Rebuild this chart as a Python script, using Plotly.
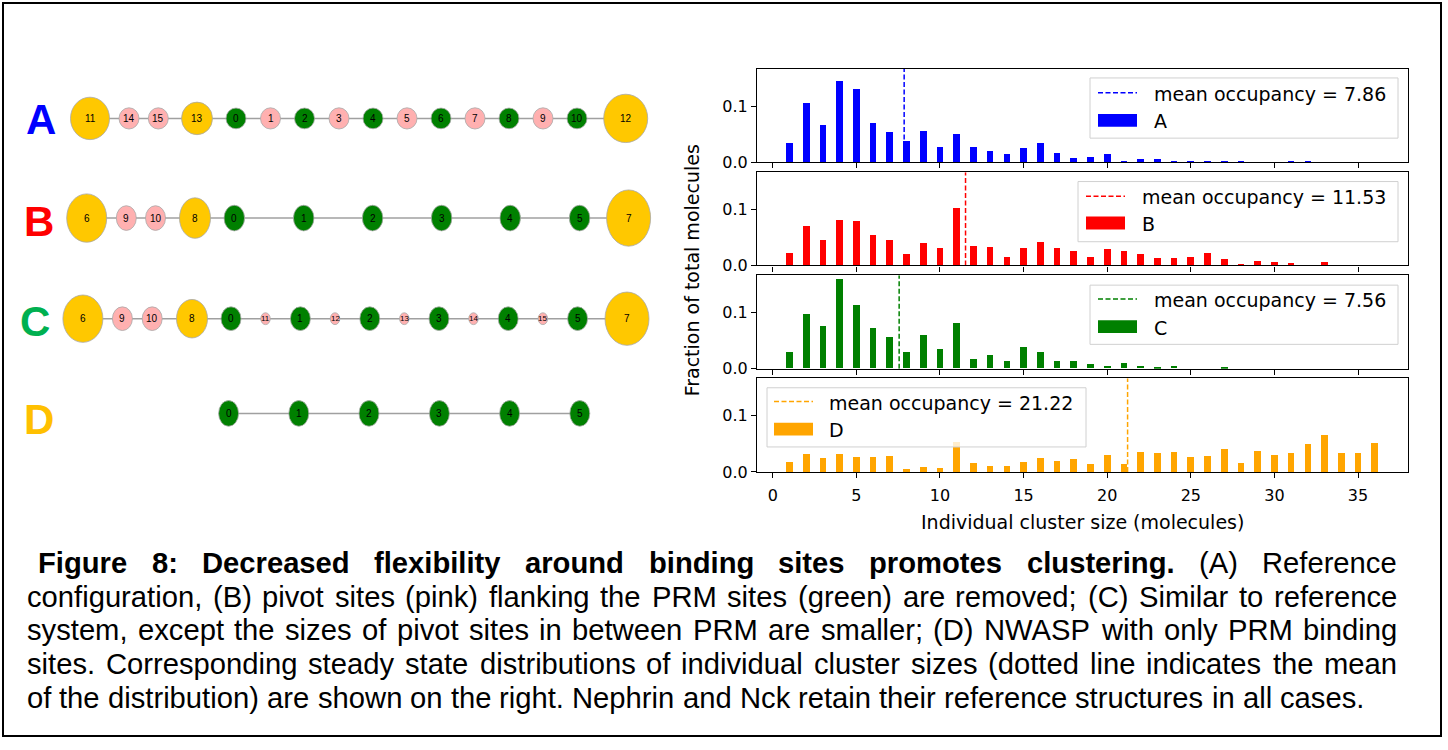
import plotly.graph_objects as go

# ---------------- data ----------------
cluster_sizes = list(range(1, 37))
frac_A = [0.035, 0.106, 0.066, 0.146, 0.131, 0.070, 0.054, 0.038, 0.056, 0.028,
          0.050, 0.028, 0.021, 0.015, 0.026, 0.035, 0.017, 0.008, 0.010, 0.015,
          0.002, 0.006, 0.006, 0.002, 0.002, 0.002, 0.002, 0.002, 0.0, 0.0,
          0.002, 0.002, 0.0, 0.0, 0.0, 0.0]
frac_B = [0.021, 0.070, 0.045, 0.081, 0.079, 0.054, 0.045, 0.019, 0.040, 0.030,
          0.102, 0.035, 0.033, 0.014, 0.031, 0.041, 0.031, 0.025, 0.015, 0.028,
          0.026, 0.020, 0.012, 0.012, 0.015, 0.021, 0.010, 0.002, 0.007, 0.005,
          0.003, 0.0, 0.006, 0.0, 0.0, 0.0]
frac_C = [0.029, 0.098, 0.075, 0.159, 0.113, 0.073, 0.057, 0.030, 0.060, 0.034,
          0.081, 0.016, 0.024, 0.014, 0.038, 0.029, 0.013, 0.014, 0.008, 0.005,
          0.009, 0.004, 0.002, 0.005, 0.0, 0.0, 0.002, 0.0, 0.0, 0.0,
          0.0, 0.0, 0.0, 0.0, 0.0, 0.0]
frac_D = [0.018, 0.032, 0.024, 0.032, 0.026, 0.027, 0.028, 0.004, 0.008, 0.007,
          0.053, 0.015, 0.010, 0.011, 0.018, 0.025, 0.019, 0.022, 0.013, 0.029,
          0.013, 0.036, 0.034, 0.036, 0.027, 0.028, 0.041, 0.016, 0.037, 0.029,
          0.034, 0.049, 0.065, 0.033, 0.034, 0.051]
panel_names = ["A", "B", "C", "D"]
mean_occupancy = [7.86, 11.53, 7.56, 21.22]
x_tick_vals = [0, 5, 10, 15, 20, 25, 30, 35]
y_tick_vals = [0.0, 0.1]
y_tick_text = ["0.0", "0.1"]
x_title = "Individual cluster size (molecules)"
y_title = "Fraction of total molecules"

# node diagrams: labels and site kinds (Y = yellow, P = pink pivot, p = small pivot, G = green PRM)
node_labels = {
    "A": [11, 14, 15, 13, 0, 1, 2, 3, 4, 5, 6, 7, 8, 9, 10, 12],
    "B": [6, 9, 10, 8, 0, 1, 2, 3, 4, 5, 7],
    "C": [6, 9, 10, 8, 0, 11, 1, 12, 2, 13, 3, 14, 4, 15, 5, 7],
    "D": [0, 1, 2, 3, 4, 5],
}
node_kinds = {
    "A": ["Y1", "P", "P", "Y2", "G", "P", "G", "P", "G", "P", "G", "P", "G", "P", "G", "Y3"],
    "B": ["Y1", "P", "P", "Y2", "G", "G", "G", "G", "G", "G", "Y3"],
    "C": ["Y1", "P", "P", "Y2", "G", "p", "G", "p", "G", "p", "G", "p", "G", "p", "G", "Y3"],
    "D": ["G", "G", "G", "G", "G", "G"],
}

caption_lines = [
    "Figure 8: Decreased flexibility around binding sites promotes clustering. (A) Reference",
    "configuration, (B) pivot sites (pink) flanking the PRM sites (green) are removed; (C) Similar to reference",
    "system, except the sizes of pivot sites in between PRM are smaller; (D) NWASP with only PRM binding",
    "sites. Corresponding steady state distributions of individual cluster sizes (dotted line indicates the mean",
    "of the distribution) are shown on the right. Nephrin and Nck retain their reference structures in all cases.",
]
caption_bold_words = 9  # first words of line 1 are bold

# ---------------- layout / styles ----------------
W, H = 1448, 750
bar_colors = ["#0000FF", "#FF0000", "#008000", "#FFA500"]
letter_colors = {"A": "#0000FF", "B": "#FF0000", "C": "#00B050", "D": "#FFC000"}
node_fill = {"Y1": "#FFC800", "Y2": "#FFC800", "Y3": "#FFC800", "P": "#FFB0B0", "p": "#FFB0B0", "G": "#008000"}

plot_left, plot_right = 757, 1407.7
panel_tb = [(69.7, 164.3), (174.7, 269.0), (279.0, 373.7), (383.3, 478.3)]
x_range = [-0.94, 37.97]
y_range = [0, 0.167]

row_geom = {
    "A": dict(y=120, xs=[90, 129, 158.3, 197, 236, 270.5, 304.5, 339, 373, 407, 441, 475, 509, 543, 577, 625.7],
              size={"Y1": (39, 43), "Y2": (31, 33), "Y3": (44, 49), "P": (20, 21.5), "G": (20, 21)}),
    "B": dict(y=221, xs=[86.7, 126.3, 155.5, 195, 234.3, 303.7, 372.6, 441.6, 510.2, 579.6, 628.6],
              size={"Y1": (40, 49), "Y2": (31, 41), "Y3": (44, 57), "P": (20, 25), "G": (20.5, 26)}),
    "C": dict(y=323, xs=[82.9, 122.4, 152.2, 192, 231, 265.5, 300.4, 335, 369.8, 404.3, 439, 473.5, 508.2,
                         542.9, 577.6, 627],
              size={"Y1": (40, 48), "Y2": (31, 39), "Y3": (44, 54), "P": (20, 24), "p": (9.5, 12), "G": (20, 24)}),
    "D": dict(y=419, xs=[228.6, 298.8, 369, 439.4, 509.6, 579.8], size={"G": (20, 26)}),
}
letter_pos = {"A": (41, 121), "B": (39, 224), "C": (35, 326), "D": (39, 425)}

legend_geom = [
    dict(box=(1090, 79, 1398, 140), sample_x=(1098, 1137), text_x=1154, row_y=(94, 122)),
    dict(box=(1078, 184, 1398, 245), sample_x=(1086, 1125), text_x=1142, row_y=(199, 226)),
    dict(box=(1090, 289, 1398, 349), sample_x=(1098, 1137), text_x=1154, row_y=(303, 331)),
    dict(box=(767, 393, 1086, 453), sample_x=(774, 813), text_x=829, row_y=(407, 435)),
]

mpl_font = "DejaVu Sans"
cap_font = "Liberation Sans, Arial, sans-serif"
cap_size = 29.2
cap_left, cap_right, cap_first = 27, 1397, 38
cap_y0, cap_dy = 571, 34


def fx(p):
    return p / W


def fy(p):
    return 1 - p / H


fig = go.Figure()

# ---------------- histograms ----------------
series = [frac_A, frac_B, frac_C, frac_D]
for i, (vals, col, m) in enumerate(zip(series, bar_colors, mean_occupancy)):
    xa = "x" if i == 0 else f"x{i+1}"
    ya = "y" if i == 0 else f"y{i+1}"
    fig.add_trace(go.Bar(x=cluster_sizes, y=vals, width=0.4, marker=dict(color=col, line=dict(width=0)),
                         xaxis=xa, yaxis=ya, showlegend=False, hoverinfo="skip"))
    fig.add_trace(go.Scatter(x=[m, m], y=y_range, mode="lines", xaxis=xa, yaxis=ya,
                             line=dict(color=col, width=1.5, dash="5px,2.5px"), showlegend=False,
                             hoverinfo="skip"))

axis_common = dict(showline=True, mirror=True, linecolor="black", linewidth=1.2, showgrid=False,
                   zeroline=False, ticks="outside", ticklen=5, tickwidth=1.2, tickcolor="black",
                   tickfont=dict(family=mpl_font, size=16, color="black"), fixedrange=True)
layout = dict(width=W, height=H, margin=dict(l=0, r=0, t=0, b=0), paper_bgcolor="white",
              plot_bgcolor="rgba(0,0,0,0)", showlegend=False, bargap=0)
for i, (top, bot) in enumerate(panel_tb):
    xk = "xaxis" if i == 0 else f"xaxis{i+1}"
    yk = "yaxis" if i == 0 else f"yaxis{i+1}"
    xa = "x" if i == 0 else f"x{i+1}"
    ya = "y" if i == 0 else f"y{i+1}"
    layout[xk] = dict(axis_common, domain=[fx(plot_left), fx(plot_right)], range=x_range, anchor=ya,
                      tickvals=x_tick_vals, showticklabels=(i == 3), ticklabelstandoff=4)
    layout[yk] = dict(axis_common, domain=[fy(bot), fy(top)], range=y_range, anchor=xa,
                      tickvals=y_tick_vals, ticktext=y_tick_text)

# overlay pixel axis for diagram / decorations
layout["xaxis5"] = dict(domain=[0, 1], range=[0, W], visible=False, anchor="y5", fixedrange=True)
layout["yaxis5"] = dict(domain=[0, 1], range=[H, 0], visible=False, anchor="x5", fixedrange=True)
fig.add_trace(go.Scatter(x=[], y=[], xaxis="x5", yaxis="y5", showlegend=False))

shapes = []
annotations = []

# outer border
shapes.append(dict(type="rect", xref="x5", yref="y5", x0=3, y0=3, x1=1441, y1=746,
                   line=dict(color="black", width=2), fillcolor="rgba(0,0,0,0)", layer="above"))

# legends (drawn manually to mimic matplotlib)
for i, g in enumerate(legend_geom):
    x0, y0, x1, y1 = g["box"]
    shapes.append(dict(type="rect", xref="x5", yref="y5", x0=x0, y0=y0, x1=x1, y1=y1,
                       line=dict(color="#d0d0d0", width=1), fillcolor="rgba(255,255,255,0.8)", layer="above"))
    sx0, sx1 = g["sample_x"]
    r1, r2 = g["row_y"]
    shapes.append(dict(type="line", xref="x5", yref="y5", x0=sx0, x1=sx1, y0=r1, y1=r1,
                       line=dict(color=bar_colors[i], width=1.5, dash="5px,2.5px"), layer="above"))
    shapes.append(dict(type="rect", xref="x5", yref="y5", x0=sx0, x1=sx1, y0=r2 - 6.5, y1=r2 + 6.5,
                       line=dict(width=0), fillcolor=bar_colors[i], layer="above"))
    annotations.append(dict(xref="x5", yref="y5", x=g["text_x"] - 2, y=r1 + 1, xanchor="left", yanchor="middle",
                            text=f"mean occupancy = {mean_occupancy[i]:.2f}", showarrow=False,
                            font=dict(family=mpl_font, size=19, color="black")))
    annotations.append(dict(xref="x5", yref="y5", x=g["text_x"] - 2, y=r2 + 1, xanchor="left", yanchor="middle",
                            text=panel_names[i], showarrow=False,
                            font=dict(family=mpl_font, size=19, color="black")))

# axis titles
annotations.append(dict(xref="x5", yref="y5", x=(plot_left + plot_right) / 2, y=529, text=x_title,
                        showarrow=False, xanchor="center", yanchor="middle",
                        font=dict(family=mpl_font, size=19, color="black")))
annotations.append(dict(xref="x5", yref="y5", x=692, y=(panel_tb[0][0] + panel_tb[3][1]) / 2, text=y_title,
                        showarrow=False, textangle=-90, xanchor="center", yanchor="middle",
                        font=dict(family=mpl_font, size=19, color="black")))

# node diagrams
for name in panel_names:
    g = row_geom[name]
    yc = g["y"]
    xs = g["xs"]
    shapes.append(dict(type="line", xref="x5", yref="y5", x0=xs[0], x1=xs[-1], y0=yc, y1=yc,
                       line=dict(color="#A0A0A0", width=1.5), layer="above"))
    for lab, kind, xc in zip(node_labels[name], node_kinds[name], xs):
        w, h = g["size"][kind]
        shapes.append(dict(type="circle", xref="x5", yref="y5", x0=xc - w / 2, x1=xc + w / 2,
                           y0=yc - h / 2, y1=yc + h / 2, fillcolor=node_fill[kind],
                           line=dict(color="#A8A8A8", width=0.8), layer="above"))
        annotations.append(dict(xref="x5", yref="y5", x=xc, y=yc, text=str(lab), showarrow=False,
                                xanchor="center", yanchor="middle",
                                font=dict(family="Liberation Sans", size=8 if kind == "p" else 10,
                                          color="black")))
    lx, ly = letter_pos[name]
    annotations.append(dict(xref="x5", yref="y5", x=lx, y=ly, text=f"<b>{name}</b>", showarrow=False,
                            xanchor="center", yanchor="middle",
                            font=dict(family="Liberation Sans", size=42, color=letter_colors[name])))

# caption with justified lines (Arial metrics, per 1000 em)
REG = {' ': 278, '(': 333, ')': 333, ',': 278, '.': 278, ':': 278, ';': 278, '-': 333,
       'A': 667, 'B': 667, 'C': 722, 'D': 722, 'E': 667, 'F': 611, 'G': 778, 'H': 722, 'I': 278, 'J': 500,
       'K': 667, 'L': 556, 'M': 833, 'N': 722, 'O': 778, 'P': 667, 'Q': 778, 'R': 722, 'S': 667, 'T': 611,
       'U': 722, 'V': 667, 'W': 944, 'X': 667, 'Y': 667, 'Z': 611,
       'a': 556, 'b': 556, 'c': 500, 'd': 556, 'e': 556, 'f': 278, 'g': 556, 'h': 556, 'i': 222, 'j': 222,
       'k': 500, 'l': 222, 'm': 833, 'n': 556, 'o': 556, 'p': 556, 'q': 556, 'r': 333, 's': 500, 't': 278,
       'u': 556, 'v': 500, 'w': 722, 'x': 500, 'y': 500, 'z': 500}
BOLD = {' ': 278, '(': 333, ')': 333, ',': 278, '.': 278, ':': 333, ';': 333, '-': 333,
        'A': 722, 'B': 722, 'C': 722, 'D': 722, 'F': 611, 'N': 722, 'P': 667, 'R': 722,
        'a': 556, 'b': 611, 'c': 556, 'd': 611, 'e': 556, 'f': 333, 'g': 611, 'h': 611, 'i': 278, 'j': 278,
        'k': 556, 'l': 278, 'm': 889, 'n': 611, 'o': 611, 'p': 611, 'q': 611, 'r': 389, 's': 556, 't': 333,
        'u': 611, 'v': 556, 'w': 778, 'x': 556, 'y': 556, 'z': 500}


def word_width(wd, bold):
    tab = BOLD if bold else REG
    return sum(tab.get(ch, 556) for ch in wd) / 1000.0 * cap_size


for li, line in enumerate(caption_lines):
    words = line.split(" ")
    bolds = [(li == 0 and k < caption_bold_words) for k in range(len(words))]
    widths = [word_width(wd, b) for wd, b in zip(words, bolds)]
    start = cap_first if li == 0 else cap_left
    last = li == len(caption_lines) - 1
    if last:
        gap = REG[' '] / 1000.0 * cap_size
    else:
        gap = (cap_right - start - sum(widths)) / (len(words) - 1)
    xcur = start
    yc = cap_y0 + li * cap_dy
    for wd, b, wdt in zip(words, bolds, widths):
        annotations.append(dict(xref="x5", yref="y5", x=xcur - 2, y=yc, xanchor="left", yanchor="middle",
                                text=f"<b>{wd}</b>" if b else wd, showarrow=False,
                                font=dict(family=cap_font, size=cap_size, color="black")))
        xcur += wdt + gap

layout["shapes"] = shapes
layout["annotations"] = annotations
fig.update_layout(**layout)
fig.write_html("out.html")
